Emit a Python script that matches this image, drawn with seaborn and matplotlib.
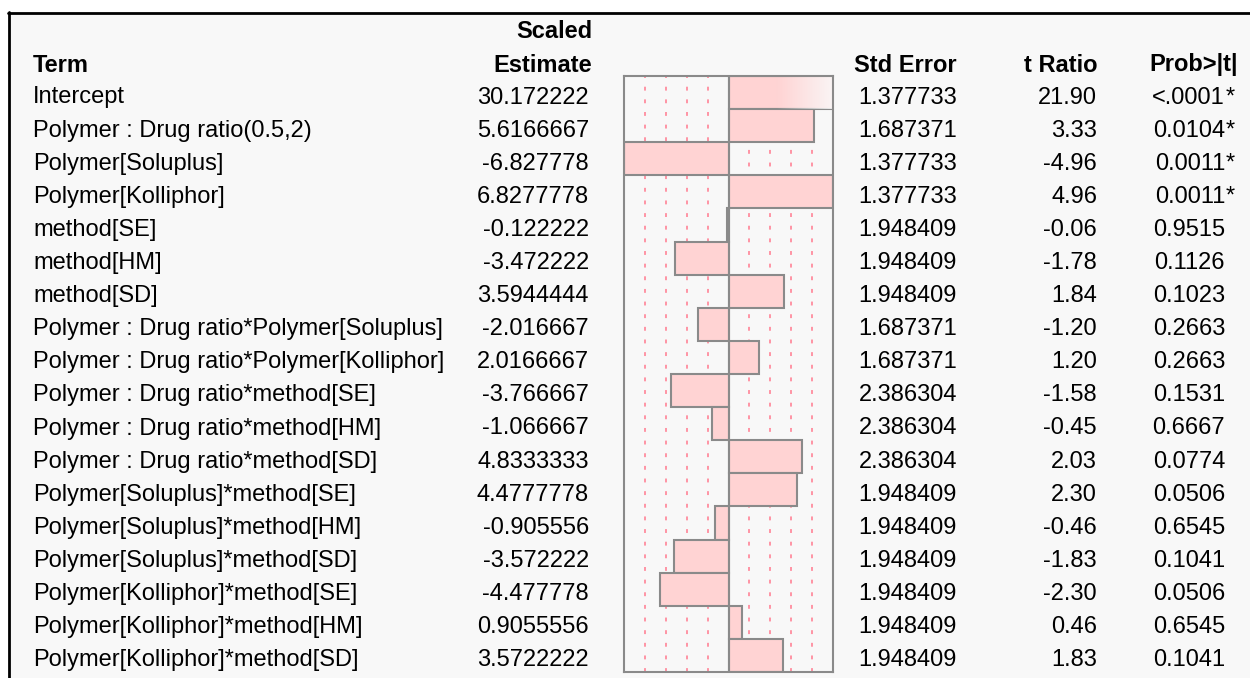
import numpy as np
import matplotlib
matplotlib.use("Agg")
import matplotlib.pyplot as plt
import seaborn as sns

terms = ["Intercept", "Polymer : Drug ratio(0.5,2)", "Polymer[Soluplus]", "Polymer[Kolliphor]",
         "method[SE]", "method[HM]", "method[SD]",
         "Polymer : Drug ratio*Polymer[Soluplus]", "Polymer : Drug ratio*Polymer[Kolliphor]",
         "Polymer : Drug ratio*method[SE]", "Polymer : Drug ratio*method[HM]",
         "Polymer : Drug ratio*method[SD]",
         "Polymer[Soluplus]*method[SE]", "Polymer[Soluplus]*method[HM]", "Polymer[Soluplus]*method[SD]",
         "Polymer[Kolliphor]*method[SE]", "Polymer[Kolliphor]*method[HM]", "Polymer[Kolliphor]*method[SD]"]
estimate = [30.172222, 5.6166667, -6.827778, 6.8277778, -0.122222, -3.472222, 3.5944444,
            -2.016667, 2.0166667, -3.766667, -1.066667, 4.8333333,
            4.4777778, -0.905556, -3.572222, -4.477778, 0.9055556, 3.5722222]
estimate_txt = ["30.172222", "5.6166667", "-6.827778", "6.8277778", "-0.122222", "-3.472222", "3.5944444",
                "-2.016667", "2.0166667", "-3.766667", "-1.066667", "4.8333333",
                "4.4777778", "-0.905556", "-3.572222", "-4.477778", "0.9055556", "3.5722222"]
std_err = ["1.377733", "1.687371", "1.377733", "1.377733", "1.948409", "1.948409", "1.948409",
           "1.687371", "1.687371", "2.386304", "2.386304", "2.386304",
           "1.948409", "1.948409", "1.948409", "1.948409", "1.948409", "1.948409"]
t_ratio = ["21.90", "3.33", "-4.96", "4.96", "-0.06", "-1.78", "1.84", "-1.20", "1.20",
           "-1.58", "-0.45", "2.03", "2.30", "-0.46", "-1.83", "-2.30", "0.46", "1.83"]
prob = ["<.0001", "0.0104", "0.0011", "0.0011", "0.9515", "0.1126", "0.1023", "0.2663", "0.2663",
        "0.1531", "0.6667", "0.0774", "0.0506", "0.6545", "0.1041", "0.0506", "0.6545", "0.1041"]
signif = [True, True, True, True] + [False] * 14

W, H = 1250, 678
pink = "#ffd3d3"
edge = "#8a8a8a"

sns.set_theme(style="white")
plt.rcParams["font.family"] = ["Liberation Sans", "DejaVu Sans"]
plt.rcParams["text.color"] = "black"

fig = plt.figure(figsize=(W / 100, H / 100), dpi=100)
fig.patch.set_facecolor("white")

# full-figure axes in pixel coords for the table text
tab = fig.add_axes([0, 0, 1, 1])
tab.set_xlim(0, W)
tab.set_ylim(H, 0)
tab.axis("off")
tab.add_patch(plt.Rectangle((8, 12), W, H, facecolor="#f8f8f8", edgecolor="none", zorder=0))
tab.plot([9, 9], [12, H], color="black", lw=2)
tab.plot([8, W], [13, 13], color="black", lw=2)

fs = 17
row_h = 33.1
base0 = 103.5

tab.text(33, 71.5, "Term", fontsize=fs, fontweight="bold", ha="left", va="baseline")
tab.text(592, 38.5, "Scaled", fontsize=fs, fontweight="bold", ha="right", va="baseline")
tab.text(592, 71.5, "Estimate", fontsize=fs, fontweight="bold", ha="right", va="baseline")
tab.text(957, 71.5, "Std Error", fontsize=fs, fontweight="bold", ha="right", va="baseline")
tab.text(1097, 71.5, "t Ratio", fontsize=fs, fontweight="bold", ha="right", va="baseline")
tab.text(1238, 71.5, "Prob>|t|", fontsize=fs, fontweight="bold", ha="right", va="baseline")

for i in range(len(terms)):
    y = base0 + row_h * i
    tab.text(33, y, terms[i], fontsize=fs, ha="left", va="baseline")
    tab.text(589, y, estimate_txt[i], fontsize=fs, ha="right", va="baseline")
    tab.text(957, y, std_err[i], fontsize=fs, ha="right", va="baseline")
    tab.text(1097, y, t_ratio[i], fontsize=fs, ha="right", va="baseline")
    tab.text(1225, y, prob[i], fontsize=fs, ha="right", va="baseline")
    if signif[i]:
        tab.text(1226, y, "*", fontsize=fs, ha="left", va="baseline")

# bar chart panel
x0, x1 = 624, 833
y0, y1 = 76, 672
ax = fig.add_axes([x0 / W, 1 - y1 / H, (x1 - x0) / W, (y1 - y0) / H])
lim = max(abs(v) for v in estimate[1:])
ax.set_facecolor("none")
for f in [0.2, 0.4, 0.6, 0.8]:
    for s in (-1, 1):
        ax.axvline(s * f * lim, color="#ff94a4", lw=1.4, ls=(0, (2, 4.5)), zorder=0)

sns.barplot(x=estimate, y=terms, orient="h", ax=ax, color=pink, edgecolor=edge,
            linewidth=1.5, width=1.0, saturation=1, zorder=2)
ax.set_xlim(-lim, lim)
ax.set_ylim(len(terms) - 0.5, -0.5)
ax.axvline(0, color=edge, lw=1.5, zorder=3)
ax.set_xticks([])
ax.set_yticks([])
ax.set_xlabel("")
ax.set_ylabel("")
for sp in ax.spines.values():
    sp.set_color(edge)
    sp.set_linewidth(1.5)
    sp.set_zorder(5)

# intercept bar fades out past the right edge
p0 = ax.patches[0]
grad = np.linspace(0, 1, 256)
alpha = np.clip((grad - 0.45) / 0.55, 0, 1) * 0.9
img = np.zeros((1, 256, 4))
img[..., :3] = 0.98
img[..., 3] = alpha
im = ax.imshow(img, extent=[0, lim, 0.5, -0.5], aspect="auto", zorder=2.5,
               interpolation="bilinear")
im.set_clip_path(p0)
ax.set_xlim(-lim, lim)
ax.set_ylim(len(terms) - 0.5, -0.5)

fig.savefig("out.png", dpi=100)
